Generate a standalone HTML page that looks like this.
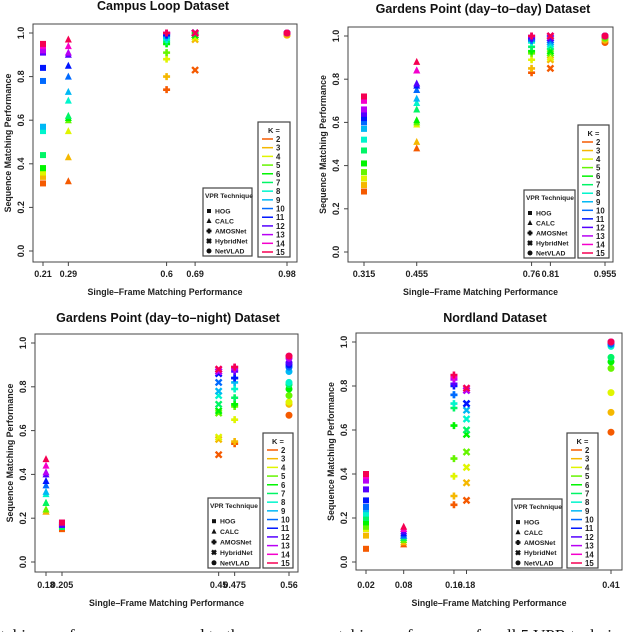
<!DOCTYPE html>
<html><head><meta charset="utf-8">
<style>
html,body{margin:0;padding:0;background:#fff;width:640px;height:632px;overflow:hidden}
svg{display:block}
text{font-family:"Liberation Sans",sans-serif}
</style></head>
<body>
<svg id="fig" width="640" height="632" viewBox="0 0 640 632">
<text x="-8" y="641" style="font-family:'Liberation Serif',serif;font-size:17px" fill="#111">ntching performance compared to the sequence matching performance for all 5 VPR techniques, as K</text>
</svg>
<script>
// ---- data ----
const kValues = [2,3,4,5,6,7,8,9,10,11,12,13,14,15];
const techniques = ["HOG","CALC","AMOSNet","HybridNet","NetVLAD"];
const yTicks = [0,0.2,0.4,0.6,0.8,1.0];
const yTickLabels = ["0.0","0.2","0.4","0.6","0.8","1.0"];

const campusX = [0.21,0.29,0.6,0.69,0.98];
const campusXLabels = ["0.21","0.29","0.6","0.69","0.98"];
const campusHOG = [0.31,0.34,0.36,0.38,0.38,0.44,0.55,0.57,0.78,0.84,0.91,0.92,0.94,0.95];
const campusCALC = [0.32,0.43,0.55,0.60,0.61,0.62,0.69,0.73,0.80,0.85,0.90,0.91,0.94,0.97];
const campusAMOS = [0.74,0.80,0.88,0.91,0.95,0.96,0.97,0.98,0.99,0.99,1.0,1.0,1.0,1.0];
const campusHybrid = [0.83,0.97,0.98,0.99,0.99,1,1,1,1,1,1,1,1,1];
const campusNetVLAD = [0.99,0.99,1,1,1,1,1,1,1,1,1,1,1,1];

const gpddX = [0.315,0.455,0.76,0.81,0.955];
const gpddXLabels = ["0.315","0.455","0.76","0.81","0.955"];
const gpddHOG = [0.28,0.31,0.34,0.37,0.41,0.47,0.52,0.57,0.60,0.62,0.64,0.66,0.70,0.72];
const gpddCALC = [0.48,0.51,0.59,0.60,0.61,0.66,0.69,0.71,0.75,0.77,0.78,0.84,0.84,0.88];
const gpddAMOS = [0.83,0.85,0.89,0.92,0.93,0.95,0.97,0.98,0.98,0.99,0.99,1,1,1];
const gpddHybrid = [0.85,0.89,0.90,0.92,0.93,0.95,0.96,0.97,0.98,0.99,0.99,1,1,1];
const gpddNetVLAD = [0.97,0.98,0.99,0.99,1,1,1,1,1,1,1,1,1,1];

const gpdnX = [0.205,0.18,0.475,0.45,0.56];
const gpdnXLabels = ["0.18","0.205","0.45","0.475","0.56"];
const gpdnXTicks = [0.18,0.205,0.45,0.475,0.56];
const gpdnHOG = [0.15,0.16,0.16,0.16,0.16,0.16,0.17,0.17,0.17,0.17,0.17,0.18,0.18,0.18];
const gpdnCALC = [0.23,0.23,0.24,0.24,0.27,0.27,0.31,0.32,0.35,0.37,0.40,0.41,0.44,0.47];
const gpdnAMOS = [0.54,0.55,0.65,0.71,0.72,0.75,0.79,0.82,0.84,0.84,0.87,0.88,0.89,0.89];
const gpdnHybrid = [0.49,0.56,0.57,0.68,0.69,0.72,0.76,0.78,0.82,0.86,0.87,0.87,0.88,0.88];
const gpdnNetVLAD = [0.67,0.72,0.73,0.76,0.79,0.81,0.82,0.87,0.89,0.90,0.91,0.93,0.94,0.94];

const nordX = [0.02,0.08,0.16,0.18,0.41];
const nordXLabels = ["0.02","0.08","0.16","0.18","0.41"];
const nordHOG = [0.06,0.12,0.15,0.16,0.18,0.20,0.22,0.24,0.25,0.28,0.33,0.37,0.39,0.40];
const nordCALC = [0.08,0.09,0.10,0.10,0.11,0.11,0.12,0.12,0.12,0.13,0.14,0.15,0.15,0.16];
const nordAMOS = [0.26,0.30,0.39,0.47,0.62,0.70,0.72,0.76,0.76,0.80,0.81,0.83,0.84,0.85];
const nordHybrid = [0.28,0.36,0.43,0.50,0.58,0.60,0.65,0.69,0.72,0.72,0.78,0.78,0.79,0.79];
const nordNetVLAD = [0.59,0.68,0.77,0.88,0.91,0.93,0.98,0.99,0.99,1,1,1,1,1];

const kHues = [22,45,65,95,120,145,170,195,215,235,260,285,310,340];

// ---- drawing ----
const NS = "http://www.w3.org/2000/svg";
const svg = document.getElementById("fig");
function mk(tag, attrs, parent){
  const e = document.createElementNS(NS, tag);
  for (const k in attrs) e.setAttribute(k, attrs[k]);
  (parent||svg).appendChild(e);
  return e;
}
function col(i){ return "hsl("+kHues[i]+",100%,"+(kHues[i]>200&&kHues[i]<270?"50%":"48%")+")"; }

function marker(g, type, x, y, c, s){
  let e;
  if (type===0) e = mk("rect",{x:x-s,y:y-s,width:2*s,height:2*s,fill:c},g);
  else if (type===1) e = mk("polygon",{points:(x)+","+(y-s-1)+" "+(x-s-0.5)+","+(y+s)+" "+(x+s+0.5)+","+(y+s),fill:c},g);
  else if (type===2) e = mk("path",{d:"M"+(x-s-0.5)+" "+y+"H"+(x+s+0.5)+"M"+x+" "+(y-s-0.5)+"V"+(y+s+0.5),stroke:c,"stroke-width":2.6,fill:"none"},g);
  else if (type===3) e = mk("path",{d:"M"+(x-s)+" "+(y-s)+"L"+(x+s)+" "+(y+s)+"M"+(x+s)+" "+(y-s)+"L"+(x-s)+" "+(y+s),stroke:c,"stroke-width":2.4,fill:"none"},g);
  else e = mk("circle",{cx:x,cy:y,r:s+0.5,fill:c},g);
  return e;
}

function panel(cfg){
  const g = mk("g",{});
  
  
  const xs = v => cfg.p0 + (v-cfg.v0)*(cfg.p1-cfg.p0)/(cfg.v1-cfg.v0);
  const ys = v => cfg.y0 + (cfg.y1-cfg.y0)*v;
  const t = mk("text",{x:cfg.tx,y:cfg.ty,"text-anchor":"middle","font-size":12.5,"font-weight":"bold",fill:"#111"},g);
  t.textContent = cfg.title;
  
  
  const box = mk("rect",{x:cfg.l,y:cfg.t,width:cfg.r-cfg.l,height:cfg.b-cfg.t,fill:"none",stroke:"#444","stroke-width":1},g);
  
  
  yTicks.forEach((v,i)=>{
    const y = ys(v);
    mk("line",{x1:cfg.l-4,x2:cfg.l,y1:y,y2:y,stroke:"#444"},g);
    const tl = mk("text",{x:cfg.l-9,y:y,"text-anchor":"middle","font-size":9,"font-weight":"bold",fill:"#222",transform:"rotate(-90 "+(cfg.l-9)+" "+y+")"},g);
    tl.textContent = yTickLabels[i];
    
    
  });
  cfg.xTicks.forEach((v,i)=>{
    const x = xs(v);
    mk("line",{x1:x,x2:x,y1:cfg.b,y2:cfg.b+4,stroke:"#444"},g);
    const tl = mk("text",{x:x,y:cfg.xly,"text-anchor":"middle","font-size":9,"font-weight":"bold",fill:"#222"},g);
    tl.textContent = cfg.xLabels[i];
    
    
  });
  const xt = mk("text",{x:(cfg.l+cfg.r)/2,y:cfg.xty,"text-anchor":"middle","font-size":8.8,"font-weight":"bold",fill:"#222"},g);
  xt.textContent = "Single\u2013Frame Matching Performance";
  
  
  const ycx = cfg.l-22, ycy = (cfg.t+cfg.b)/2;
  const yt = mk("text",{x:ycx,y:ycy,"text-anchor":"middle","font-size":8.8,"font-weight":"bold",fill:"#222",transform:"rotate(-90 "+ycx+" "+ycy+")"},g);
  yt.textContent = "Sequence Matching Performance";
  
  
  cfg.series.forEach((arr,ti)=>{
    arr.forEach((v,ki)=>{
      const m = marker(g, ti, xs(cfg.xPos[ti]), ys(v), col(ki), 3);
      
      
    });
  });
  const vl = mk("g",{},g);
  
  
  const V = cfg.vpr;
  mk("rect",{x:V[0],y:V[1],width:V[2]-V[0],height:V[3]-V[1],fill:"#fff",stroke:"#444","stroke-width":1.2},vl);
  const vh = mk("text",{x:V[0]+2,y:V[1]+10,"font-size":6.6,"font-weight":"bold",fill:"#222"},vl);
  vh.textContent = "VPR Technique";
  const step = (V[3]-V[1]-18)/5;
  techniques.forEach((nm,i)=>{
    const y = V[1]+18+step*(i+0.5);
    marker(vl, i, V[0]+6, y, "#111", 2);
    const lt = mk("text",{x:V[0]+12,y:y+2.5,"font-size":6.8,fill:"#222","font-weight":"bold"},vl);
    lt.textContent = nm;
    
    
  });
  const kl = mk("g",{},g);
  
  
  const K = cfg.kbox;
  mk("rect",{x:K[0],y:K[1],width:K[2]-K[0],height:K[3]-K[1],fill:"#fff",stroke:"#444","stroke-width":1.2},kl);
  const kh = mk("text",{x:(K[0]+K[2])/2,y:K[1]+11,"text-anchor":"middle","font-size":7.5,"font-weight":"bold",fill:"#222"},kl);
  kh.textContent = "K =";
  const ks = (K[3]-K[1]-22)/13;
  kValues.forEach((k,i)=>{
    const y = K[1]+17+ks*i;
    mk("line",{x1:K[0]+4,x2:K[0]+15,y1:y,y2:y,stroke:col(i),"stroke-width":1.5},kl);
    const lt = mk("text",{x:K[0]+18,y:y+3,"font-size":7.8,"font-weight":"bold",fill:"#222"},kl);
    lt.textContent = k;
    
    
  });
}

panel({name:"campus-loop-chart",title:"Campus Loop Dataset",tx:163,ty:10,
  l:33,t:24,r:297,b:262,y0:251,y1:33,v0:0.21,p0:43,v1:0.98,p1:287,
  xTicks:campusX,xLabels:campusXLabels,xPos:campusX,xly:277,xty:295,
  series:[campusHOG,campusCALC,campusAMOS,campusHybrid,campusNetVLAD],
  vpr:[203,188,252,256],kbox:[258,122,290,257]});
panel({name:"gardens-day-to-day-chart",title:"Gardens Point (day\u2013to\u2013day) Dataset",tx:483,ty:13,
  l:348,t:27,r:613,b:262,y0:252,y1:36,v0:0.315,p0:364,v1:0.955,p1:605,
  xTicks:gpddX,xLabels:gpddXLabels,xPos:gpddX,xly:277,xty:295,
  series:[gpddHOG,gpddCALC,gpddAMOS,gpddHybrid,gpddNetVLAD],
  vpr:[524,190,575,258],kbox:[578,125,609,258]});
panel({name:"gardens-day-to-night-chart",title:"Gardens Point (day\u2013to\u2013night) Dataset",tx:168,ty:322,
  l:35,t:334,r:298,b:572,y0:562,y1:343,v0:0.18,p0:46,v1:0.56,p1:289,
  xTicks:gpdnXTicks,xLabels:gpdnXLabels,xPos:gpdnX,xly:588,xty:606,
  series:[gpdnHOG,gpdnCALC,gpdnAMOS,gpdnHybrid,gpdnNetVLAD],
  vpr:[208,498,260,568],kbox:[263,433,293,568]});
panel({name:"nordland-chart",title:"Nordland Dataset",tx:495,ty:322,
  l:356,t:333,r:622,b:570,y0:562,y1:342,v0:0.02,p0:366,v1:0.41,p1:611,
  xTicks:nordX,xLabels:nordXLabels,xPos:nordX,xly:588,xty:606,
  series:[nordHOG,nordCALC,nordAMOS,nordHybrid,nordNetVLAD],
  vpr:[512,499,562,568],kbox:[567,433,598,568]});
</script>
</body></html>
